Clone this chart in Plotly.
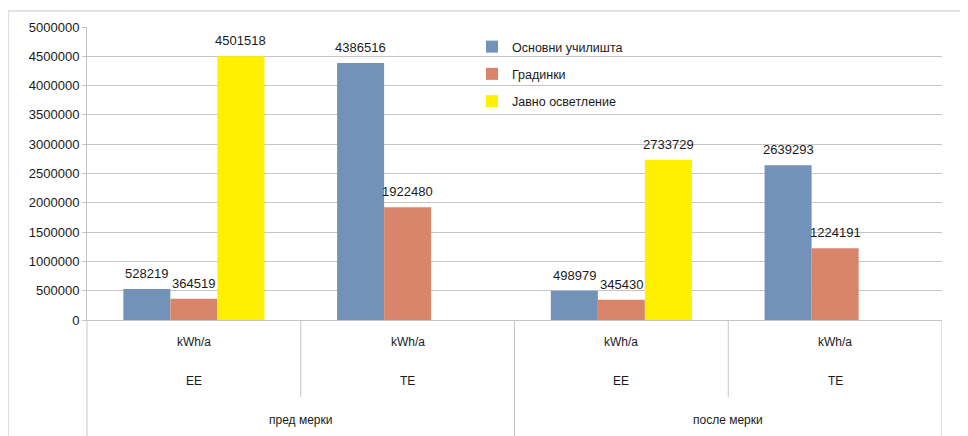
import plotly.graph_objects as go

# ---- data ----
periods = ["пред мерки", "пред мерки", "после мерки", "после мерки"]
energy = ["EE", "TE", "EE", "TE"]
units = ["kWh/a", "kWh/a", "kWh/a", "kWh/a"]
series_names = ["Основни училишта", "Градинки", "Јавно осветление"]
osnovni = [528219, 4386516, 498979, 2639293]
gradinki = [364519, 1922480, 345430, 1224191]
javno = [4501518, None, 2733729, None]
y_ticks = [0, 500000, 1000000, 1500000, 2000000, 2500000, 3000000, 3500000, 4000000, 4500000, 5000000]

colors = ["#7392BA", "#D9856B", "#FFF000"]
cats = [f"{p}|{e}|{i}" for i, (p, e) in enumerate(zip(periods, energy))]

OFF = 8  # page body margin
W, H = 968, 436
# plot area in page pixels: x 87..942, y 27..320
ML = 87 - OFF
MT = 27 - OFF
MR = W - (942 - OFF)
MB = H - (320 - OFF)
PW, PH = W - ML - MR, H - MT - MB
BARGAP = 0.34


def px_x(px):
    return (px - OFF - ML) / PW


def px_y(py):
    return (H - MB - (py - OFF)) / PH


FONT = "Liberation Sans"
all_series = [osnovni, gradinki, javno]
fig = go.Figure()
for name, vals, col in zip(series_names, all_series, colors):
    fig.add_trace(go.Bar(
        x=cats, y=vals, name=name, marker_color=col, marker_line_width=0,
        legendgroup=name,
    ))

grid = "#C8C4C4"
fig.update_layout(
    width=W, height=H,
    margin=dict(l=ML, r=MR, t=MT, b=MB),
    paper_bgcolor="white", plot_bgcolor="white",
    barmode="group", bargap=BARGAP, bargroupgap=0,
    font=dict(family=FONT, size=13, color="#1a1a1a"),
    showlegend=True,
    legend=dict(x=px_x(472), y=px_y(32), xanchor="left", yanchor="top",
                bgcolor="rgba(0,0,0,0)", font=dict(family=FONT, size=12.5, color="#1a1a1a"),
                tracegroupgap=8, itemwidth=30),
    xaxis=dict(showticklabels=False, ticks="", showgrid=False, showline=True,
               linecolor=grid, linewidth=1, range=[-0.5, 3.5], zeroline=False),
    yaxis=dict(range=[0, 5000000], tickvals=y_ticks, tickformat="d",
               showgrid=True, gridcolor=grid, gridwidth=1,
               showline=True, linecolor=grid, linewidth=1,
               ticks="outside", ticklen=4, tickcolor=grid,
               zeroline=False, tickfont=dict(family=FONT, size=13, color="#1a1a1a")),
)

shapes = []
# outer border
shapes.append(dict(type="rect", xref="paper", yref="paper",
                   x0=px_x(8), x1=px_x(990), y0=px_y(11), y1=px_y(460),
                   line=dict(color="#CFCACA", width=1.2), fillcolor="rgba(0,0,0,0)"))
# left axis extension
shapes.append(dict(type="line", xref="paper", yref="paper", x0=0, x1=0,
                   y0=0, y1=px_y(450), line=dict(color=grid, width=1)))
# dividers
for i in range(len(cats)):
    xb = i + 0.5
    long_line = (i == len(cats) - 1) or (periods[i] != periods[i + 1])
    shapes.append(dict(type="line", xref="x", yref="paper", x0=xb, x1=xb,
                       y0=0, y1=px_y(450 if long_line else 397),
                       line=dict(color=grid, width=1)))
fig.update_layout(shapes=shapes)

anns = []
# data labels above bars
n = len(all_series)
bw = (1 - BARGAP) / n
for k, vals in enumerate(all_series):
    for i, v in enumerate(vals):
        if v is None:
            continue
        anns.append(dict(x=i + (k - (n - 1) / 2) * bw, y=v, xref="x", yref="y",
                         text=str(v), showarrow=False, yanchor="bottom", yshift=6,
                         font=dict(family=FONT, size=13, color="#1a1a1a")))

lab_font = dict(family=FONT, size=12, color="#1a1a1a")
for i, (u, e) in enumerate(zip(units, energy)):
    anns.append(dict(x=cats[i], y=px_y(342), xref="x", yref="paper", text=u,
                     yanchor="middle", showarrow=False, font=lab_font))
    anns.append(dict(x=cats[i], y=px_y(381), xref="x", yref="paper", text=e,
                     yanchor="middle", showarrow=False, font=lab_font))
seen = []
for p in periods:
    if p not in seen:
        seen.append(p)
for p in seen:
    idx = [i for i, q in enumerate(periods) if q == p]
    xc = (min(idx) + max(idx)) / 2
    anns.append(dict(x=xc, y=px_y(420), xref="x", yref="paper", text=p,
                     yanchor="middle", showarrow=False, font=lab_font))
fig.update_layout(annotations=anns)

fig.write_html("out.html")
